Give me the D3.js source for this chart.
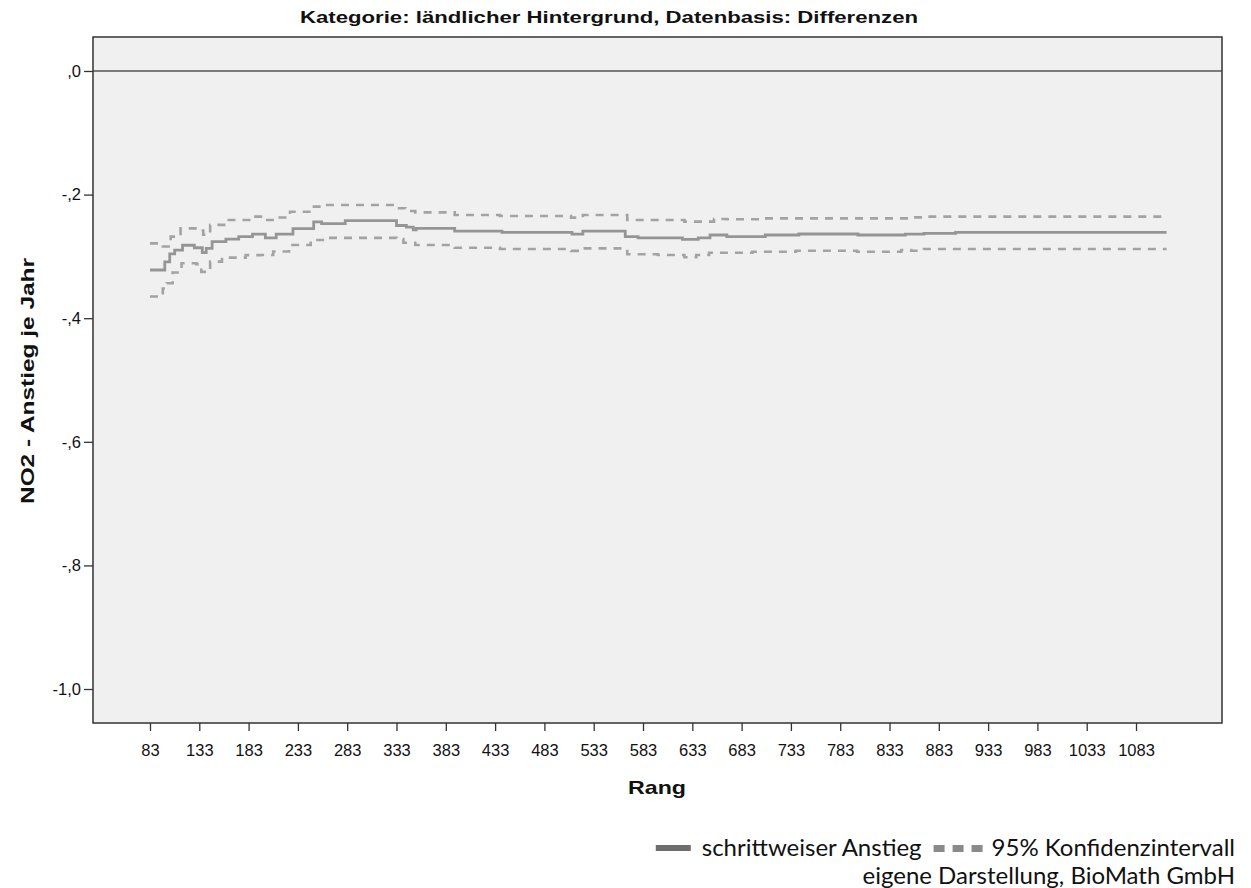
<!DOCTYPE html>
<html><head><meta charset="utf-8">
<script src="https://cdn.jsdelivr.net/npm/d3@7"></script>
<style>html,body{margin:0;padding:0;background:#fff;}svg{display:block;}</style>
</head><body>
<svg id="chart" width="1251" height="888"></svg>
<script>
// ---- data ----
const titleText = "Kategorie: ländlicher Hintergrund, Datenbasis: Differenzen";
const xTickValues = [83,133,183,233,283,333,383,433,483,533,583,633,683,733,783,833,883,933,983,1033,1083];
const yTickValues = [0,-0.2,-0.4,-0.6,-0.8,-1.0];
const yTickLabels = [",0","-,2","-,4","-,6","-,8","-1,0"];

const estRank  = [83,98,103,108,116,128,136,140,146,160,173,187,200,211,228,249,257,281,333,343,350,353,392,440,511,522,565,578,623,639,651,668,707,741,801,849,868,900,1114];
const estValue = [-0.322,-0.309,-0.296,-0.290,-0.282,-0.286,-0.294,-0.287,-0.276,-0.272,-0.268,-0.264,-0.270,-0.264,-0.255,-0.244,-0.247,-0.242,-0.250,-0.2525,-0.257,-0.2546,-0.259,-0.261,-0.264,-0.259,-0.268,-0.270,-0.2724,-0.270,-0.2654,-0.268,-0.2654,-0.2638,-0.2654,-0.264,-0.2627,-0.261,-0.261];

const upRank  = [83,96,104,114,132,137,144,160,187,198,210,225,246,260,333,342,352,392,438,510,522,567,625,655,668,703,855,868,1114];
const upValue = [-0.279,-0.284,-0.268,-0.2546,-0.258,-0.265,-0.249,-0.241,-0.2357,-0.241,-0.237,-0.2277,-0.2195,-0.2168,-0.222,-0.2265,-0.2287,-0.233,-0.2346,-0.2373,-0.233,-0.241,-0.2438,-0.2395,-0.240,-0.2384,-0.2368,-0.2357,-0.2357];

const loRank  = [83,96,100,106,115,130,135,144,156,180,195,208,224,246,260,333,340,352,392,438,510,522,567,598,625,637,650,694,738,800,845,855,868,1114];
const loValue = [-0.365,-0.352,-0.3435,-0.326,-0.311,-0.3125,-0.325,-0.3085,-0.302,-0.298,-0.2977,-0.292,-0.2816,-0.2735,-0.270,-0.272,-0.278,-0.2816,-0.286,-0.288,-0.291,-0.287,-0.2966,-0.2977,-0.3015,-0.2977,-0.294,-0.2924,-0.2908,-0.2924,-0.2897,-0.2908,-0.288,-0.288];

const legendLabels = ["schrittweiser Anstieg","95% Konfidenzintervall"];
const sourceText = "eigene Darstellung, BioMath GmbH";

// ---- layout ----
const svg = d3.select("#chart");
const L = 93, T = 37, R = 1222, B = 723;
const x = d3.scaleLinear().domain([25.2, 1170.2]).range([L, R]);
const y = d3.scaleLinear().domain([0.055, -1.055]).range([T, B]);
const axisFont = "'Liberation Sans', Arial, sans-serif";

svg.append("rect").attr("x", L).attr("y", T).attr("width", R-L).attr("height", B-T)
  .attr("fill", "#f0f0f0");

// title
svg.append("text").attr("x", 609).attr("y", 23).attr("text-anchor","middle")
  .attr("font-family", axisFont).attr("font-weight","bold").attr("font-size", 16.5)
  .attr("textLength", 618).attr("lengthAdjust","spacingAndGlyphs")
  .attr("fill","#111").text(titleText);

// zero reference line
svg.append("line").attr("x1", L).attr("x2", R).attr("y1", y(0)).attr("y2", y(0))
  .attr("stroke","#555").attr("stroke-width",1.6);

// series
function series(r, v){ return r.map((d,i)=>({r:d, v:v[i]})); }
const line = d3.line().x(d=>x(d.r)).y(d=>y(d.v)).curve(d3.curveStepAfter);
const g = svg.append("g");
g.append("path").datum(series(upRank, upValue)).attr("d", line)
  .attr("fill","none").attr("stroke","#a3a3a3").attr("stroke-width",2.6).attr("stroke-dasharray","8,7");
g.append("path").datum(series(loRank, loValue)).attr("d", line)
  .attr("fill","none").attr("stroke","#a3a3a3").attr("stroke-width",2.6).attr("stroke-dasharray","8,7");
g.append("path").datum(series(estRank, estValue)).attr("d", line)
  .attr("fill","none").attr("stroke","#959595").attr("stroke-width",2.8);

// frame
svg.append("rect").attr("x", L).attr("y", T).attr("width", R-L).attr("height", B-T)
  .attr("fill", "none").attr("stroke","#333").attr("stroke-width",1.5);

// axes
const xAxis = d3.axisBottom(x).tickValues(xTickValues).tickSize(8).tickPadding(13).tickFormat(d3.format("d"));
const gx = svg.append("g").attr("transform", `translate(0,${B})`).call(xAxis);
gx.select(".domain").remove();
gx.selectAll("line").attr("stroke","#333").attr("stroke-width",1.3);
gx.selectAll("text").attr("font-family", axisFont).attr("font-size", 16.5).attr("fill","#111");

const yAxis = d3.axisLeft(y).tickValues(yTickValues).tickSize(9).tickPadding(3)
  .tickFormat((d,i)=>yTickLabels[i]);
const gy = svg.append("g").attr("transform", `translate(${L},0)`).call(yAxis);
gy.select(".domain").remove();
gy.selectAll("line").attr("stroke","#333").attr("stroke-width",1.3);
gy.selectAll("text").attr("font-family", axisFont).attr("font-size", 16.5).attr("fill","#111");

// axis titles
svg.append("text").attr("transform","translate(34,381) rotate(-90)").attr("text-anchor","middle")
  .attr("font-family", axisFont).attr("font-weight","bold").attr("font-size", 19).attr("fill","#111")
  .attr("textLength", 246).attr("lengthAdjust","spacingAndGlyphs")
  .text("NO2 - Anstieg je Jahr");
svg.append("text").attr("x", 657).attr("y", 794).attr("text-anchor","middle")
  .attr("font-family", axisFont).attr("font-weight","bold").attr("font-size", 19).attr("fill","#111")
  .attr("textLength", 58).attr("lengthAdjust","spacingAndGlyphs")
  .text("Rang");

// legend
const legFont = "Lato, 'Open Sans', sans-serif";
const legSize = 24;
const right = 1235, base1 = 856, base2 = 884;
const t2 = svg.append("text").attr("x", right).attr("y", base1).attr("text-anchor","end")
  .attr("font-family", legFont).attr("font-size", legSize).attr("fill","#111").text(legendLabels[1]);
const w2 = t2.node().getComputedTextLength();
const dashEnd = right - w2 - 9;
const dashW = [0,1,2];
svg.selectAll("rect.ld").data(dashW).enter().append("rect").attr("class","ld")
  .attr("x", d=> dashEnd - 49 + d*19).attr("y", base1-11).attr("width", 11).attr("height", 7)
  .attr("fill","#8a8a8a");
const t1 = svg.append("text").attr("x", dashEnd - 49 - 12).attr("y", base1).attr("text-anchor","end")
  .attr("font-family", legFont).attr("font-size", legSize).attr("fill","#111").text(legendLabels[0]);
const w1 = t1.node().getComputedTextLength();
const solidEnd = dashEnd - 49 - 12 - w1 - 11;
svg.append("rect").attr("x", solidEnd - 35).attr("y", base1-11).attr("width", 35).attr("height", 6)
  .attr("fill","#6e6e6e");
svg.append("text").attr("x", right).attr("y", base2).attr("text-anchor","end")
  .attr("font-family", legFont).attr("font-size", legSize).attr("fill","#111").text(sourceText);
</script>
</body></html>
